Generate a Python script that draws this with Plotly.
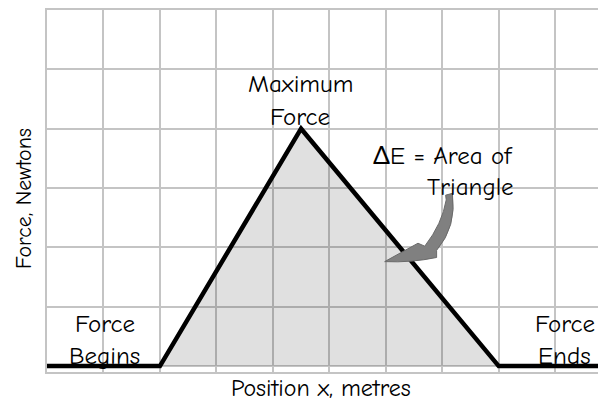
import plotly.graph_objects as go

# ---- data ----
position = [0, 2, 4.5, 8, 9.9]
force = [0, 0, 4, 0, 0]
tri_x = [2, 4.5, 8]
tri_y = [0, 4, 0]
label_max = ["Maximum", "Force"]
label_area = ["\u0394E = Area of", "Triangle"]
label_begin = ["Force", "Begins"]
label_end = ["Force", "Ends"]
x_title = "Position x, metres"
y_title = "Force, Newtons"

# page is rendered with an 8px body margin; compensate
OFF = 8
W, H = 606 - OFF, 402 - OFF
L, R, T, B = 47 - OFF, 0, 10 - OFF, 30
FONT = "Comic Sans MS, Comic Neue, Lato, sans-serif"

def px(xp, yp):
    xp -= OFF
    yp -= OFF
    return (xp - L) / (W - L - R), (H - B - yp) / (H - T - B)

fig = go.Figure()
fig.add_trace(go.Scatter(x=tri_x, y=tri_y, fill="tozeroy", mode="none",
                         fillcolor="rgba(0,0,0,0.12)", hoverinfo="skip"))
fig.add_trace(go.Scatter(x=position, y=force, mode="lines",
                         line=dict(color="black", width=4.5), hoverinfo="skip"))

anns = []
def ann(text, xp, yp, xanchor="center", size=25, angle=0):
    x, y = px(xp, yp)
    anns.append(dict(text=text, x=x, y=y, xref="paper", yref="paper",
                     xanchor=xanchor, yanchor="middle", showarrow=False,
                     textangle=angle, font=dict(family=FONT, size=size, color="black")))

ann(label_max[0], 300, 83)
ann(label_max[1], 300, 116)
ann(label_area[0], 515, 155, xanchor="right")
ann(label_area[1], 516, 186, xanchor="right")
ann(label_begin[0], 105, 323)
ann(label_begin[1], 104, 355)
ann(label_end[0], 565, 323)
ann(label_end[1], 564, 355)
ann(x_title, 321, 388, size=24)
ann(y_title, 24, 199, size=22, angle=-90)

arrow_path = ("M 7.06 2.88 L 7.18 2.91 Q 7.26 2.35 6.90 1.95 L 6.90 1.83 "
              "Q 6.45 1.74 5.98 1.76 L 6.57 2.07 L 6.69 2.02 Q 7.00 2.40 7.07 2.80 Z")

fig.update_layout(
    width=W, height=H, margin=dict(l=L, r=R, t=T, b=B),
    paper_bgcolor="white", plot_bgcolor="white", showlegend=False,
    annotations=anns,
    shapes=[dict(type="path", path=arrow_path, xref="x", yref="y",
                 fillcolor="#808080", line=dict(color="#6a6a6a", width=1))],
    xaxis=dict(range=[0, 9.9], dtick=1, tick0=0, showgrid=True, gridcolor="#c4c4c4",
               gridwidth=2, zeroline=False, showticklabels=False, ticks="",
               showline=True, linecolor="#c4c4c4", linewidth=2, mirror=True),
    yaxis=dict(range=[-0.1, 6], dtick=1, tick0=0, showgrid=True, gridcolor="#c4c4c4",
               gridwidth=2, zeroline=False, showticklabels=False, ticks="",
               showline=True, linecolor="#c4c4c4", linewidth=2),
)
fig.write_html("out.html")
